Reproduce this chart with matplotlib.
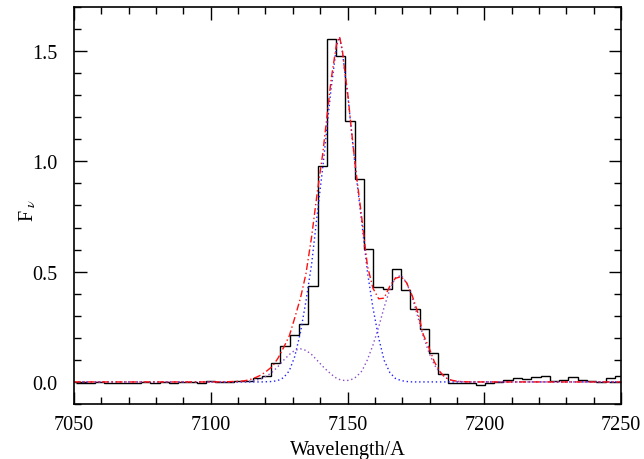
import numpy as np
import matplotlib
matplotlib.use('Agg')
from matplotlib import pyplot as plt
from matplotlib.ticker import MultipleLocator

# histogram of the observed spectrum (regular bins)
bin_start = 7050.73
bin_width = 3.397
flux = [-0.006, -0.003, -0.002, -0.007, -0.004, -0.003, -0.006, -0.002, -0.003, -0.001,
        -0.005, -0.002, -0.001, -0.003, 0.002, 0.000, -0.001, 0.002, 0.005, 0.017,
        0.029, 0.085, 0.165, 0.214, 0.262, 0.433, 0.980, 1.555, 1.476, 1.185,
        0.918, 0.605, 0.430, 0.420, 0.510, 0.415, 0.330, 0.240, 0.130, 0.036,
        -0.005, -0.005, -0.006, -0.012, -0.005, 0.001, 0.010, 0.018, 0.014, 0.021,
        0.026, 0.005, 0.010, 0.023, 0.010, 0.006, -0.001, 0.017, 0.029]

# model curves sampled on a common wavelength grid
model_wave = [7050.0, 7070.4, 7090.9, 7101.1, 7106.2, 7110.3, 7112.3, 7114.4, 7116.4, 7118.5,
              7120.5, 7122.6, 7124.6, 7126.6, 7128.7, 7130.7, 7132.8, 7134.8, 7136.9, 7138.9,
              7141.0, 7142.0, 7143.0, 7144.0, 7145.1, 7146.1, 7147.1, 7148.1, 7149.1, 7150.2,
              7151.2, 7152.2, 7153.2, 7155.3, 7157.3, 7159.3, 7161.4, 7163.4, 7165.5, 7167.5,
              7169.6, 7171.6, 7173.7, 7175.7, 7177.7, 7179.8, 7181.8, 7183.9, 7185.9, 7188.0,
              7190.0, 7192.0, 7195.1, 7199.2, 7203.3, 7223.7, 7250.0]
comp_main = [0.0, 0.0, 0.0, 0.0, 0.0, 0.0, 0.0, 0.0, 0.0, 0.0,
             0.001, 0.002, 0.007, 0.019, 0.050, 0.115, 0.224, 0.366, 0.536, 0.757,
             0.978, 1.094, 1.214, 1.330, 1.436, 1.530, 1.562, 1.500, 1.394, 1.290,
             1.166, 1.047, 0.933, 0.713, 0.497, 0.336, 0.199, 0.098, 0.042, 0.016,
             0.006, 0.002, 0.0, 0.0, 0.0, 0.0, 0.0, 0.0, 0.0, 0.0,
             0.0, 0.0, 0.0, 0.0, 0.0, 0.0, 0.0]
comp_second = [0.0, 0.0, 0.0, 0.0, 0.0, 0.0005, 0.001, 0.003, 0.007, 0.015,
               0.027, 0.046, 0.070, 0.098, 0.124, 0.143, 0.150, 0.143, 0.124, 0.098,
               0.070, 0.058, 0.046, 0.036, 0.024, 0.016, 0.011, 0.008, 0.006, 0.007,
               0.010, 0.015, 0.023, 0.050, 0.101, 0.167, 0.249, 0.339, 0.420, 0.472,
               0.484, 0.450, 0.382, 0.294, 0.206, 0.132, 0.076, 0.040, 0.019, 0.008,
               0.003, 0.001, 0.0, 0.0, 0.0, 0.0, 0.0]
model_total = [0.0, 0.0, 0.0, 0.0, 0.001, 0.003, 0.005, 0.011, 0.020, 0.032,
               0.050, 0.071, 0.108, 0.155, 0.208, 0.290, 0.380, 0.490, 0.660, 0.855,
               1.040, 1.150, 1.260, 1.370, 1.460, 1.540, 1.565, 1.505, 1.400, 1.295,
               1.170, 1.055, 0.945, 0.735, 0.525, 0.425, 0.377, 0.380, 0.435, 0.470,
               0.477, 0.450, 0.390, 0.315, 0.215, 0.155, 0.090, 0.045, 0.018, 0.008,
               0.003, 0.001, 0.0, 0.0, 0.0, 0.0, 0.0]

plt.rcParams['font.family'] = ['Liberation Serif', 'DejaVu Serif']
plt.rcParams['mathtext.fontset'] = 'stix'

fig = plt.figure(figsize=(6.44, 4.60), dpi=100)
ax = fig.add_axes([0.1149, 0.1196, 0.8494, 0.8630])

edges = bin_start + bin_width * np.arange(len(flux) + 1)
ax.stairs(flux, edges, color='black', linewidth=1.0, baseline=None)

ax.plot(model_wave, comp_main, color='#2020ff', linestyle=(0, (1, 2)), linewidth=1.0)
ax.plot(model_wave, comp_second, color='#8a4cc8', linestyle=(0, (1, 2)), linewidth=1.0)
ax.plot(model_wave, model_total, color='#ff1010', linestyle=(0, (5, 2, 1, 2)), linewidth=1.0)

ax.set_xlim(7050, 7250)
ax.set_ylim(-0.1, 1.7)
ax.xaxis.set_major_locator(MultipleLocator(50))
ax.xaxis.set_minor_locator(MultipleLocator(10))
ax.yaxis.set_major_locator(MultipleLocator(0.5))
ax.yaxis.set_minor_locator(MultipleLocator(0.1))
ax.yaxis.set_major_formatter(plt.FormatStrFormatter('%.1f'))

ax.tick_params(which='both', direction='in', top=True, right=True,
               labelsize=14.5, width=1.0, colors='black')
ax.tick_params(axis='x', which='both', pad=8)
ax.tick_params(axis='y', which='both', pad=12)
ax.tick_params(which='major', length=9)
ax.tick_params(which='minor', length=5)
for s in ax.spines.values():
    s.set_linewidth(1.2)

ax.set_xlabel('Wavelength/A', fontsize=14.5, labelpad=4)
ax.set_ylabel(r'F$_{\ \nu}$', fontsize=14.5)
ax.yaxis.set_label_coords(-0.066, 0.49)

fig.savefig('out.png', dpi=100)
